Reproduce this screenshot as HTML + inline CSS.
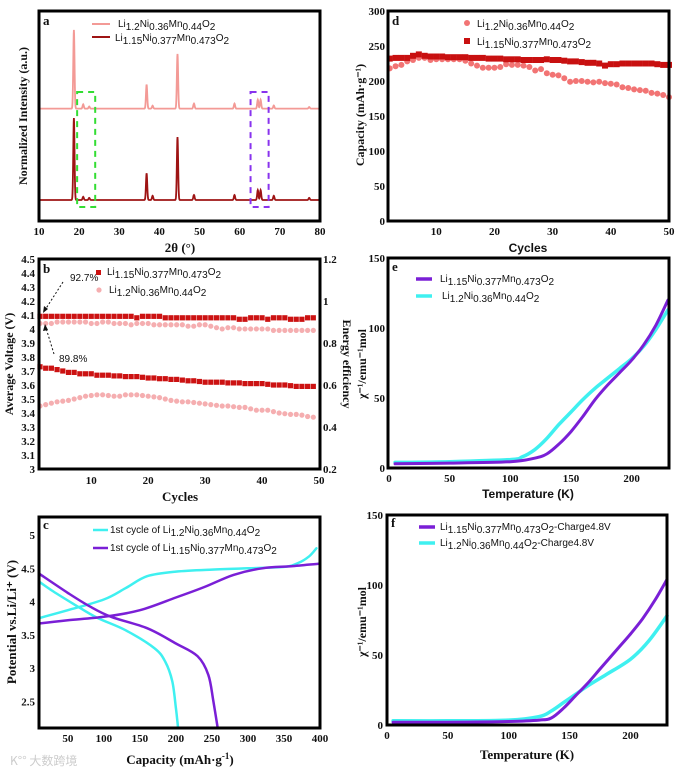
<!DOCTYPE html>
<html><head><meta charset="utf-8"><style>
html,body{margin:0;padding:0;background:#fff;}
svg{display:block;}
.tk{font-family:"Liberation Serif",serif;font-weight:bold;font-size:11px;fill:#111;}
.ttl{font-family:"Liberation Serif",serif;font-weight:bold;font-size:12px;fill:#111;}
.st{font-family:"Liberation Sans",sans-serif;font-weight:bold;font-size:12px;fill:#111;}
.lg{font-family:"Liberation Sans",sans-serif;font-size:10px;fill:#111;}
.pl{font-family:"Liberation Serif",serif;font-weight:bold;font-size:13px;fill:#111;}
</style></head><body>
<svg id="fig" width="680" height="774" viewBox="0 0 680 774" xmlns="http://www.w3.org/2000/svg">
<text x="10" y="765" font-family="Noto Sans CJK SC,sans-serif" font-size="12" fill="#ccc">K°° 大数跨境</text>
</svg>
<script>
// ---------- DATA ----------
const xrdTicks=[10,20,30,40,50,60,70,80];
const xrdPeakPos=[18.7,21.0,22.5,36.8,38.3,44.5,48.6,58.7,64.5,65.2,68.5,77.3];
const xrdDarkH=[39,1.5,1,12.7,2,30,2.4,2.4,4.7,4.7,2,1];
const xrdPinkH=[37.5,2,1,11.5,1.4,26,2.4,2.4,4.2,4.2,1.5,0.8];
const xrdDarkBase=10, xrdPinkBase=53.5;

const bCycles=[];for(let i=1;i<=49;i++)bCycles.push(i);
const bEffDark=[0.927,0.927,0.927,0.927,0.927,0.927,0.927,0.927,0.927,0.927,0.927,0.927,0.927,0.927,0.927,0.927,0.927,0.92,0.927,0.927,0.927,0.927,0.92,0.92,0.92,0.92,0.92,0.92,0.92,0.92,0.92,0.92,0.92,0.92,0.92,0.913,0.913,0.92,0.92,0.92,0.913,0.92,0.92,0.92,0.913,0.913,0.913,0.92,0.92];
const bEffPink=[0.893,0.893,0.893,0.9,0.9,0.9,0.9,0.9,0.9,0.893,0.893,0.9,0.9,0.893,0.893,0.893,0.887,0.893,0.893,0.893,0.887,0.887,0.887,0.887,0.887,0.887,0.88,0.88,0.887,0.887,0.88,0.873,0.867,0.873,0.873,0.867,0.867,0.867,0.867,0.867,0.867,0.86,0.86,0.86,0.86,0.86,0.86,0.86,0.86];
const bVoltDark=[3.73,3.72,3.72,3.71,3.70,3.69,3.69,3.68,3.68,3.68,3.67,3.67,3.67,3.665,3.665,3.66,3.66,3.66,3.655,3.65,3.65,3.645,3.645,3.64,3.64,3.635,3.63,3.63,3.625,3.62,3.62,3.62,3.62,3.615,3.615,3.615,3.61,3.61,3.61,3.61,3.605,3.60,3.60,3.60,3.595,3.59,3.59,3.59,3.59];
const bVoltPink=[3.45,3.46,3.47,3.48,3.485,3.49,3.50,3.51,3.52,3.525,3.53,3.53,3.525,3.52,3.52,3.53,3.53,3.53,3.525,3.52,3.515,3.51,3.50,3.49,3.485,3.48,3.48,3.475,3.47,3.465,3.46,3.455,3.45,3.45,3.445,3.44,3.44,3.43,3.42,3.42,3.42,3.41,3.40,3.395,3.39,3.39,3.385,3.375,3.37];
const bLeftTicks=[3,3.1,3.2,3.3,3.4,3.5,3.6,3.7,3.8,3.9,4,4.1,4.2,4.3,4.4,4.5];
const bRightTicks=[0.2,0.4,0.6,0.8,1,1.2];
const bRightLabels=["0.2","0.4","0.6","0.8","1","1.2"];
const cycTicks=[10,20,30,40,50];

const cCyanChgX=[10,50,100,130,160,200,250,300,350,370,385,395];
const cCyanChgY=[3.75,3.87,4.03,4.2,4.38,4.45,4.48,4.5,4.52,4.58,4.68,4.8];
const cCyanDisX=[10,30,60,90,130,170,185,195,200,203];
const cCyanDisY=[4.3,4.15,3.95,3.76,3.57,3.3,3.1,2.8,2.4,2.1];
const cPurChgX=[10,50,100,150,200,240,280,320,360,400];
const cPurChgY=[3.67,3.72,3.77,3.87,4.06,4.22,4.4,4.5,4.53,4.57];
const cPurDisX=[10,50,80,110,160,200,230,245,252,258];
const cPurDisY=[4.42,4.13,3.93,3.77,3.6,3.37,3.18,2.9,2.5,2.1];
const cXTicks=[50,100,150,200,250,300,350,400];
const cYTicks=[2.5,3,3.5,4,4.5,5];

const dCycles=[];for(let i=2;i<=50;i++)dCycles.push(i);
const dPink=[218,221,223,228,230,233,233,230,231,231,231,231,231,229,225,222,219,219,219,220,224,223,223,222,220,215,217,211,209,208,204,199,200,200,199,198,199,197,196,195,191,190,188,187,186,183,182,180,177];
const dRed=[232,233,233,233,236,238,236,235,235,235,234,234,234,234,233,233,233,232,232,232,231,231,231,230,230,230,230,231,230,230,229,228,228,227,226,226,225,222,224,224,225,225,225,225,225,225,224,223,223];
const dYTicks=[0,50,100,150,200,250,300];

const tXTicks=[0,50,100,150,200];
const tYTicks=[0,50,100,150];
const eT=[5,50,100,120,130,140,150,160,170,180,190,200,210,220,230];
const ePur=[3,3.5,4.5,7,10,17,26,37,49,59,68,77,88,102,120];
const eCy=[4,4.5,6,8,13,21,31,40,49,57,64,71,78,87,99,113];
const eTc=[5,50,100,110,120,130,140,150,160,170,180,190,200,210,220,230];
const fTp=[5,50,100,125,135,145,155,165,175,190,200,210,220,230];
const fPur=[2,2,2.5,3.5,5,12,21,30,40,55,65,76,89,104];
const fTc=[5,50,100,125,135,145,155,165,180,200,215,230];
const fCy=[3,3,3.5,6,10,16,22,28,36,47,60,78];

// ---------- HELPERS ----------
const svg=document.getElementById('fig');
const NS='http://www.w3.org/2000/svg';
function mk(tag,attrs,name,parent){
  const el=document.createElementNS(NS,tag);
  for(const k in attrs)el.setAttribute(k,attrs[k]);
  
  
  (parent||svg).appendChild(el);return el;
}
function lin(d0,d1,r0,r1){return v=>r0+(v-d0)/(d1-d0)*(r1-r0);}
function txt(x,y,s,cls,name,anchor,extra){const t=mk('text',Object.assign({x:x,y:y,class:cls,'text-anchor':anchor||'start'},extra||{}),name);t.textContent=s;return t;}
function formula(x,y,str,name,fs){
  const t=mk('text',{x:x,y:y,class:'lg','font-size':fs||10.5},name);
  const parts=str.split(/(_\{[^}]*\})/);
  let sub=false;
  parts.forEach(p=>{if(!p)return;
    const ts=document.createElementNS(NS,'tspan');
    if(p.startsWith('_{')){ts.textContent=p.slice(2,-1);ts.setAttribute('dy',sub?0:3);sub=true;}
    else{ts.textContent=p;ts.setAttribute('dy',sub?-3:0);sub=false;}
    t.appendChild(ts);});
  return t;
}
function smooth(pts){
  let d='M'+pts[0][0]+','+pts[0][1];
  for(let i=0;i<pts.length-1;i++){
    const p0=pts[Math.max(0,i-1)],p1=pts[i],p2=pts[i+1],p3=pts[Math.min(pts.length-1,i+2)];
    const c1=[p1[0]+(p2[0]-p0[0])/6,p1[1]+(p2[1]-p0[1])/6];
    const c2=[p2[0]-(p3[0]-p1[0])/6,p2[1]-(p3[1]-p1[1])/6];
    d+=' C'+c1[0].toFixed(1)+','+c1[1].toFixed(1)+' '+c2[0].toFixed(1)+','+c2[1].toFixed(1)+' '+p2[0].toFixed(1)+','+p2[1].toFixed(1);
  }
  return d;
}
function curve(xs,ys,sx,sy,color,w,name){
  const pts=xs.map((x,i)=>[sx(x),sy(ys[i])]);
  mk('path',{d:smooth(pts),fill:'none',stroke:color,'stroke-width':w,'stroke-linecap':'round'},name);
}
function frame(x0,y0,x1,y1,name){mk('rect',{x:x0,y:y0,width:x1-x0,height:y1-y0,fill:'none',stroke:'#000','stroke-width':3},name);}

// ---------- PANEL A ----------
(function(){
  const sx=lin(10,80,39,320), sy=lin(0,100,221,11);
  function prof(base,H){let d='';for(let x=10;x<=80.001;x+=0.05){let v=base;xrdPeakPos.forEach((p,i)=>{v+=H[i]*Math.exp(-Math.pow((x-p)/0.22,2));});d+=(d?'L':'M')+sx(x).toFixed(1)+','+sy(v).toFixed(1);}return d;}
  mk('path',{d:prof(xrdPinkBase,xrdPinkH),fill:'none',stroke:'#f39a96','stroke-width':1.8},'xrd-li1.2-trace');
  mk('path',{d:prof(xrdDarkBase,xrdDarkH),fill:'none',stroke:'#9e1414','stroke-width':1.8},'xrd-li1.15-trace');
  mk('rect',{x:sx(19.5),y:92,width:sx(24)-sx(19.5),height:115,fill:'none',stroke:'#33dd33','stroke-width':2,'stroke-dasharray':'6,5'},'green-dashed-box');
  mk('rect',{x:sx(62.7),y:92,width:sx(67.2)-sx(62.7),height:115,fill:'none',stroke:'#8833ee','stroke-width':2,'stroke-dasharray':'6,5'},'purple-dashed-box');
  frame(39,11,320,221,'panel-a-frame');
  xrdTicks.forEach(v=>txt(sx(v),235,String(v),'tk','x-tick-label-a','middle'));
  txt(180,252,'2θ (°)','pl','x-axis-title-a','middle');
  txt(27,116,'Normalized Intensity (a.u.)','ttl','y-axis-title-a','middle',{transform:'rotate(-90 27 116)'});
  txt(43,25,'a','pl','panel-label-a');
  mk('line',{x1:92,y1:24,x2:110,y2:24,stroke:'#f39a96','stroke-width':2},'legend-line-li1.2');
  formula(118,27,'Li_{1.2}Ni_{0.36}Mn_{0.44}O_{2}','legend-text-li1.2');
  mk('line',{x1:92,y1:37,x2:110,y2:37,stroke:'#9e1414','stroke-width':2},'legend-line-li1.15');
  formula(115,41,'Li_{1.15}Ni_{0.377}Mn_{0.473}O_{2}','legend-text-li1.15');
})();

// ---------- PANEL B ----------
(function(){
  const sx=lin(1,50,40,319), sy=lin(3,4.5,469,259), sr=lin(0.2,1.2,469,259);
  bCycles.forEach((c,i)=>{mk('circle',{cx:sx(c),cy:sr(bEffPink[i]),r:2.6,fill:'#f5aeb0'},'eff-pink-point');});
  bCycles.forEach((c,i)=>{mk('rect',{x:sx(c)-2.6,y:sr(bEffDark[i])-2.6,width:5.2,height:5.2,fill:'#cc1212'},'eff-red-point');});
  bCycles.forEach((c,i)=>{mk('circle',{cx:sx(c),cy:sy(bVoltPink[i]),r:2.6,fill:'#f5aeb0'},'volt-pink-point');});
  bCycles.forEach((c,i)=>{mk('rect',{x:sx(c)-2.6,y:sy(bVoltDark[i])-2.6,width:5.2,height:5.2,fill:'#cc1212'},'volt-red-point');});
  frame(39,259,320,469,'panel-b-frame');
  bLeftTicks.forEach(v=>txt(35,sy(v)+4,String(v),'tk','y-tick-label-b-left','end'));
  bRightTicks.forEach((v,i)=>txt(323,sr(v)+4,bRightLabels[i],'tk','y-tick-label-b-right','start'));
  cycTicks.forEach(v=>txt(sx(v),484,String(v),'tk','x-tick-label-b','middle'));
  txt(180,501,'Cycles','pl','x-axis-title-b','middle');
  txt(13,364,'Average Voltage (V)','ttl','y-axis-title-b','middle',{transform:'rotate(-90 13 364)'});
  txt(343,364,'Energy efficiency','ttl','y2-axis-title-b','middle',{transform:'rotate(90 343 364)'});
  txt(43,273,'b','pl','panel-label-b');
  txt(70,281,'92.7%','lg','annotation-92.7',"start",{'font-family':'Liberation Serif,serif','font-size':9});
  txt(59,362,'89.8%','lg','annotation-89.8',"start",{'font-family':'Liberation Serif,serif','font-size':9});
  mk('line',{x1:63,y1:282,x2:45,y2:310,stroke:'#111','stroke-width':1,'stroke-dasharray':'2,2'},'arrow-92.7');
  mk('path',{d:'M43,313 L44,306 L48,309 Z',fill:'#111'},'arrowhead-92.7');
  mk('line',{x1:54,y1:354,x2:46,y2:328,stroke:'#111','stroke-width':1,'stroke-dasharray':'2,2'},'arrow-89.8');
  mk('path',{d:'M45,324 L43,331 L48,330 Z',fill:'#111'},'arrowhead-89.8');
  mk('rect',{x:96,y:270,width:5,height:5,fill:'#cc1212'},'legend-marker-li1.15-b');
  formula(107,275,'Li_{1.15}Ni_{0.377}Mn_{0.473}O_{2}','legend-text-li1.15-b');
  mk('circle',{cx:99,cy:290,r:2.6,fill:'#f5aeb0'},'legend-marker-li1.2-b');
  formula(109,293,'Li_{1.2}Ni_{0.36}Mn_{0.44}O_{2}','legend-text-li1.2-b');
})();

// ---------- PANEL C ----------
(function(){
  const sx=lin(10,400,39,320), sy=lin(2.1,5.27,728,517);
  curve(cCyanChgX,cCyanChgY,sx,sy,'#3ff0f0',2.5,'cyan-charge-curve');
  curve(cCyanDisX,cCyanDisY,sx,sy,'#3ff0f0',2.5,'cyan-discharge-curve');
  curve(cPurChgX,cPurChgY,sx,sy,'#7a1fd6',2.5,'purple-charge-curve');
  curve(cPurDisX,cPurDisY,sx,sy,'#7a1fd6',2.5,'purple-discharge-curve');
  frame(39,517,320,728,'panel-c-frame');
  cXTicks.forEach(v=>txt(sx(v),742,String(v),'tk','x-tick-label-c','middle'));
  cYTicks.forEach(v=>txt(35,sy(v)+4,String(v),'tk','y-tick-label-c','end'));
  const xt=txt(180,764,'Capacity (mAh·g','pl','x-axis-title-c','middle');
  const s1=document.createElementNS(NS,'tspan');s1.setAttribute('dy',-5);s1.setAttribute('font-size',9);s1.textContent='-1';xt.appendChild(s1);
  const s2=document.createElementNS(NS,'tspan');s2.setAttribute('dy',5);s2.textContent=')';xt.appendChild(s2);
  txt(16,622,'Potential vs.Li/Li⁺ (V)','pl','y-axis-title-c','middle',{transform:'rotate(-90 16 622)'});
  txt(43,529,'c','pl','panel-label-c');
  mk('line',{x1:93,y1:530,x2:108,y2:530,stroke:'#3ff0f0','stroke-width':2.5},'legend-line-cyan-c');
  formula(110,533,'1st cycle of  Li_{1.2}Ni_{0.36}Mn_{0.44}O_{2}','legend-text-cyan-c');
  mk('line',{x1:93,y1:548,x2:108,y2:548,stroke:'#7a1fd6','stroke-width':2.5},'legend-line-purple-c');
  formula(110,551,'1st cycle of  Li_{1.15}Ni_{0.377}Mn_{0.473}O_{2}','legend-text-purple-c');
})();

// ---------- PANEL D ----------
(function(){
  const sx=lin(1.7,50,388,669), sy=lin(0,300,221,11);
  dCycles.forEach((c,i)=>{mk('circle',{cx:sx(c),cy:sy(dPink[i]),r:3,fill:'#f27474'},'capacity-pink-point');});
  dCycles.forEach((c,i)=>{mk('rect',{x:sx(c)-3,y:sy(dRed[i])-3,width:6,height:6,fill:'#c81010'},'capacity-red-point');});
  frame(388,11,669,221,'panel-d-frame');
  dYTicks.forEach(v=>txt(385,sy(v)+4,String(v),'tk','y-tick-label-d','end'));
  cycTicks.forEach(v=>txt(sx(v),235,String(v),'tk','x-tick-label-d','middle'));
  txt(528,252,'Cycles','st','x-axis-title-d','middle');
  txt(364,115,'Capacity (mAh·g⁻¹)','ttl','y-axis-title-d','middle',{transform:'rotate(-90 364 115)'});
  txt(392,25,'d','pl','panel-label-d');
  mk('circle',{cx:467,cy:23,r:3,fill:'#f27474'},'legend-marker-pink-d');
  formula(477,27,'Li_{1.2}Ni_{0.36}Mn_{0.44}O_{2}','legend-text-pink-d');
  mk('rect',{x:464,y:38,width:6,height:6,fill:'#c81010'},'legend-marker-red-d');
  formula(477,45,'Li_{1.15}Ni_{0.377}Mn_{0.473}O_{2}','legend-text-red-d');
})();

// ---------- PANEL E ----------
(function(){
  const sx=lin(0,230,389,668), sy=lin(0,150,468,258);
  curve(eTc,eCy,sx,sy,'#3ff0f0',3.5,'cyan-chi-curve-e');
  curve(eT,ePur,sx,sy,'#7a1fd6',3,'purple-chi-curve-e');
  frame(388,258,669,468,'panel-e-frame');
  tYTicks.forEach(v=>txt(385,sy(v)+4,String(v),'tk','y-tick-label-e','end'));
  tXTicks.forEach(v=>txt(sx(v),482,String(v),'tk','x-tick-label-e','middle'));
  txt(528,498,'Temperature (K)','st','x-axis-title-e','middle');
  txt(366,364,'χ⁻¹/emu⁻¹mol','ttl','y-axis-title-e','middle',{transform:'rotate(-90 366 364)'});
  txt(392,271,'e','pl','panel-label-e');
  mk('line',{x1:416,y1:279,x2:432,y2:279,stroke:'#7a1fd6','stroke-width':3.5},'legend-line-purple-e');
  formula(440,282,'Li_{1.15}Ni_{0.377}Mn_{0.473}O_{2}','legend-text-purple-e');
  mk('line',{x1:416,y1:296,x2:432,y2:296,stroke:'#3ff0f0','stroke-width':3.5},'legend-line-cyan-e');
  formula(442,299,'Li_{1.2}Ni_{0.36}Mn_{0.44}O_{2}','legend-text-cyan-e');
})();

// ---------- PANEL F ----------
(function(){
  const sx=lin(0,230,387,667), sy=lin(0,150,725,515);
  curve(fTc,fCy,sx,sy,'#3ff0f0',3.5,'cyan-chi-curve-f');
  curve(fTp,fPur,sx,sy,'#7a1fd6',3,'purple-chi-curve-f');
  frame(387,515,667,725,'panel-f-frame');
  tYTicks.forEach(v=>txt(383,sy(v)+4,String(v),'tk','y-tick-label-f','end'));
  tXTicks.forEach(v=>txt(sx(v),739,String(v),'tk','x-tick-label-f','middle'));
  txt(527,759,'Temperature (K)','pl','x-axis-title-f','middle');
  txt(366,622,'χ⁻¹/emu⁻¹mol','ttl','y-axis-title-f','middle',{transform:'rotate(-90 366 622)'});
  txt(391,527,'f','pl','panel-label-f');
  mk('line',{x1:419,y1:527,x2:435,y2:527,stroke:'#7a1fd6','stroke-width':3.5},'legend-line-purple-f');
  formula(440,530,'Li_{1.15}Ni_{0.377}Mn_{0.473}O_{2}-Charge4.8V','legend-text-purple-f');
  mk('line',{x1:419,y1:543,x2:435,y2:543,stroke:'#3ff0f0','stroke-width':3.5},'legend-line-cyan-f');
  formula(440,546,'Li_{1.2}Ni_{0.36}Mn_{0.44}O_{2}-Charge4.8V','legend-text-cyan-f');
})();
</script>
</body></html>
